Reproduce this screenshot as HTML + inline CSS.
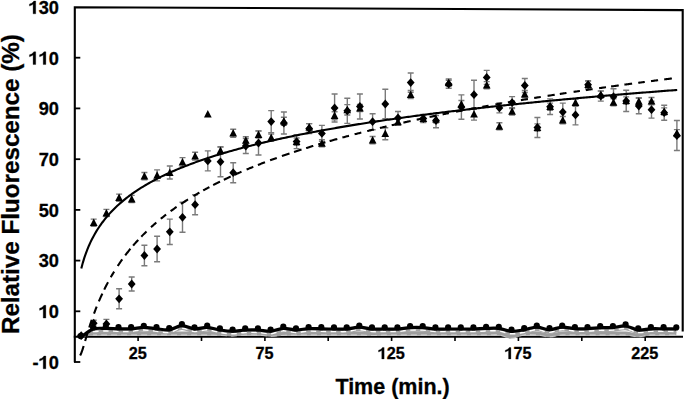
<!DOCTYPE html><html><head><meta charset="utf-8"><style>html,body{margin:0;padding:0;background:#fff;}svg{display:block;}text{font-family:"Liberation Sans",sans-serif;font-weight:bold;fill:#000;stroke:#000;stroke-width:0.3px;}</style></head><body>
<svg width="685" height="399" viewBox="0 0 685 399">
<rect width="685" height="399" fill="#fff"/>
<line x1="73.8" y1="336.7" x2="683" y2="336.7" stroke="#000" stroke-width="1.9"/>
<line x1="138.1" y1="336" x2="138.1" y2="341" stroke="#000" stroke-width="1.6"/>
<line x1="201.5" y1="336" x2="201.5" y2="341" stroke="#000" stroke-width="1.6"/>
<line x1="264.9" y1="336" x2="264.9" y2="341" stroke="#000" stroke-width="1.6"/>
<line x1="328.2" y1="336" x2="328.2" y2="341" stroke="#000" stroke-width="1.6"/>
<line x1="391.6" y1="336" x2="391.6" y2="341" stroke="#000" stroke-width="1.6"/>
<line x1="455.0" y1="336" x2="455.0" y2="341" stroke="#000" stroke-width="1.6"/>
<line x1="518.4" y1="336" x2="518.4" y2="341" stroke="#000" stroke-width="1.6"/>
<line x1="581.8" y1="336" x2="581.8" y2="341" stroke="#000" stroke-width="1.6"/>
<line x1="645.2" y1="336" x2="645.2" y2="341" stroke="#000" stroke-width="1.6"/>
<path d="M80.5,336.0 C82.6,335.6 88.9,333.8 93.1,333.4 C97.3,333.0 101.6,333.4 105.8,333.4 C110.0,333.4 114.2,333.4 118.5,333.4 C122.7,333.4 126.9,333.4 131.1,333.4 C135.4,333.4 139.6,333.4 143.8,333.4 C148.1,333.4 152.3,333.4 156.5,333.4 C160.7,333.4 165.0,333.4 169.2,333.4 C173.4,333.4 177.6,333.4 181.9,333.4 C186.1,333.4 190.3,333.4 194.5,333.4 C198.8,333.4 203.0,333.3 207.2,333.4 C211.4,333.5 215.7,333.7 219.9,333.9 C224.1,334.1 228.3,334.7 232.6,334.6 C236.8,334.5 241.0,333.6 245.2,333.4 C249.5,333.2 253.7,333.2 257.9,333.4 C262.1,333.6 266.4,334.7 270.6,334.8 C274.8,334.9 279.1,334.0 283.3,333.8 C287.5,333.6 291.7,333.5 296.0,333.4 C300.2,333.3 304.4,333.4 308.6,333.4 C312.9,333.4 317.1,333.4 321.3,333.4 C325.5,333.4 329.8,333.4 334.0,333.4 C338.2,333.4 342.4,333.4 346.7,333.4 C350.9,333.4 355.1,333.3 359.3,333.4 C363.6,333.5 367.8,334.0 372.0,334.0 C376.2,334.0 380.5,333.5 384.7,333.4 C388.9,333.3 393.2,333.4 397.4,333.4 C401.6,333.4 405.8,333.4 410.1,333.4 C414.3,333.4 418.5,333.4 422.7,333.4 C427.0,333.4 431.2,333.4 435.4,333.4 C439.6,333.4 443.9,333.4 448.1,333.4 C452.3,333.4 456.5,333.4 460.8,333.4 C465.0,333.4 469.2,333.4 473.4,333.4 C477.7,333.4 481.9,333.4 486.1,333.4 C490.3,333.4 494.6,332.8 498.8,333.4 C503.0,334.0 507.2,336.8 511.5,336.8 C515.7,336.8 519.9,334.0 524.2,333.4 C528.4,332.8 532.6,333.1 536.8,333.4 C541.1,333.7 545.3,335.4 549.5,335.4 C553.7,335.4 558.0,333.7 562.2,333.4 C566.4,333.1 570.6,333.4 574.9,333.4 C579.1,333.4 583.3,333.4 587.5,333.4 C591.8,333.4 596.0,333.4 600.2,333.4 C604.4,333.4 608.7,333.4 612.9,333.4 C617.1,333.4 621.3,333.1 625.6,333.4 C629.8,333.7 634.0,335.4 638.2,335.4 C642.5,335.4 646.7,333.7 650.9,333.4 C655.2,333.1 659.4,333.4 663.6,333.4 C667.8,333.4 674.2,333.4 676.3,333.4" fill="none" stroke="#9e9e9e" stroke-width="3.8" stroke-linejoin="round"/>
<path d="M93.1,334.9 C95.2,334.9 101.6,334.9 105.8,334.9 C110.0,334.9 114.2,334.9 118.5,334.9 C122.7,334.9 126.9,334.9 131.1,334.9 C135.4,334.9 139.6,334.9 143.8,334.9 C148.1,334.9 152.3,334.9 156.5,334.9 C160.7,334.9 165.0,334.9 169.2,334.9 C173.4,334.9 177.6,334.9 181.9,334.9 C186.1,334.9 190.3,334.9 194.5,334.9 C198.8,334.9 203.0,334.8 207.2,334.9 C211.4,335.0 215.7,335.2 219.9,335.4 C224.1,335.6 228.3,336.2 232.6,336.1 C236.8,336.0 241.0,335.1 245.2,334.9 C249.5,334.7 253.7,334.7 257.9,334.9 C262.1,335.1 266.4,336.2 270.6,336.3 C274.8,336.4 279.1,335.5 283.3,335.3 C287.5,335.1 291.7,335.0 296.0,334.9 C300.2,334.8 304.4,334.9 308.6,334.9 C312.9,334.9 317.1,334.9 321.3,334.9 C325.5,334.9 329.8,334.9 334.0,334.9 C338.2,334.9 342.4,334.9 346.7,334.9 C350.9,334.9 355.1,334.8 359.3,334.9 C363.6,335.0 367.8,335.5 372.0,335.5 C376.2,335.5 380.5,335.0 384.7,334.9 C388.9,334.8 393.2,334.9 397.4,334.9 C401.6,334.9 405.8,334.9 410.1,334.9 C414.3,334.9 418.5,334.9 422.7,334.9 C427.0,334.9 431.2,334.9 435.4,334.9 C439.6,334.9 443.9,334.9 448.1,334.9 C452.3,334.9 456.5,334.9 460.8,334.9 C465.0,334.9 469.2,334.9 473.4,334.9 C477.7,334.9 481.9,334.9 486.1,334.9 C490.3,334.9 494.6,334.3 498.8,334.9 C503.0,335.5 507.2,338.3 511.5,338.3 C515.7,338.3 519.9,335.5 524.2,334.9 C528.4,334.3 532.6,334.6 536.8,334.9 C541.1,335.2 545.3,336.9 549.5,336.9 C553.7,336.9 558.0,335.2 562.2,334.9 C566.4,334.6 570.6,334.9 574.9,334.9 C579.1,334.9 583.3,334.9 587.5,334.9 C591.8,334.9 596.0,334.9 600.2,334.9 C604.4,334.9 608.7,334.9 612.9,334.9 C617.1,334.9 621.3,334.6 625.6,334.9 C629.8,335.2 634.0,336.9 638.2,336.9 C642.5,336.9 646.7,335.2 650.9,334.9 C655.2,334.6 659.4,334.9 663.6,334.9 C667.8,334.9 674.2,334.9 676.3,334.9" fill="none" stroke="#fff" stroke-width="1.2" stroke-dasharray="6,4" stroke-dashoffset="2" opacity="0.4"/>
<path d="M80.5,336.0 C82.6,335.3 88.9,332.5 93.1,331.7 C97.3,330.9 101.6,331.1 105.8,331.0 C110.0,330.9 114.2,331.3 118.5,331.4 C122.7,331.5 126.9,331.6 131.1,331.4 C135.4,331.2 139.6,330.0 143.8,330.0 C148.1,330.0 152.3,331.0 156.5,331.4 C160.7,331.8 165.0,332.9 169.2,332.4 C173.4,331.9 177.6,328.4 181.9,328.3 C186.1,328.2 190.3,331.2 194.5,331.5 C198.8,331.8 203.0,329.7 207.2,329.9 C211.4,330.1 215.7,331.9 219.9,332.6 C224.1,333.2 228.3,333.8 232.6,333.8 C236.8,333.8 241.0,332.8 245.2,332.6 C249.5,332.4 253.7,332.4 257.9,332.6 C262.1,332.8 266.4,334.1 270.6,333.8 C274.8,333.5 279.1,331.1 283.3,330.9 C287.5,330.7 291.7,332.5 296.0,332.6 C300.2,332.6 304.4,331.4 308.6,331.2 C312.9,331.0 317.1,331.3 321.3,331.4 C325.5,331.5 329.8,331.6 334.0,331.6 C338.2,331.6 342.4,331.9 346.7,331.6 C350.9,331.3 355.1,329.7 359.3,329.7 C363.6,329.7 367.8,331.3 372.0,331.6 C376.2,331.9 380.5,331.6 384.7,331.6 C388.9,331.6 393.2,331.8 397.4,331.6 C401.6,331.4 405.8,330.4 410.1,330.2 C414.3,330.0 418.5,330.0 422.7,330.2 C427.0,330.4 431.2,331.4 435.4,331.6 C439.6,331.8 443.9,331.6 448.1,331.6 C452.3,331.6 456.5,331.6 460.8,331.6 C465.0,331.6 469.2,331.7 473.4,331.6 C477.7,331.5 481.9,331.1 486.1,331.0 C490.3,330.9 494.6,330.5 498.8,331.0 C503.0,331.5 507.2,333.7 511.5,333.9 C515.7,334.1 519.9,333.1 524.2,332.4 C528.4,331.7 532.6,329.7 536.8,329.7 C541.1,329.7 545.3,332.3 549.5,332.3 C553.7,332.3 558.0,329.9 562.2,329.7 C566.4,329.5 570.6,330.9 574.9,331.2 C579.1,331.4 583.3,331.3 587.5,331.2 C591.8,331.1 596.0,330.5 600.2,330.3 C604.4,330.1 608.7,330.5 612.9,330.2 C617.1,329.9 621.3,328.2 625.6,328.6 C629.8,329.0 634.0,332.1 638.2,332.6 C642.5,333.1 646.7,331.6 650.9,331.4 C655.2,331.2 659.4,331.4 663.6,331.4 C667.8,331.4 674.2,331.6 676.3,331.6" fill="none" stroke="#a2a2a2" stroke-width="3.2" stroke-linejoin="round"/>
<path d="M93.1,331.6 C95.2,331.5 101.6,330.9 105.8,330.9 C110.0,330.8 114.2,331.2 118.5,331.3 C122.7,331.4 126.9,331.5 131.1,331.3 C135.4,331.1 139.6,329.9 143.8,329.9 C148.1,329.9 152.3,330.9 156.5,331.3 C160.7,331.7 165.0,332.8 169.2,332.3 C173.4,331.8 177.6,328.3 181.9,328.2 C186.1,328.1 190.3,331.1 194.5,331.4 C198.8,331.7 203.0,329.6 207.2,329.8 C211.4,330.0 215.7,331.8 219.9,332.5 C224.1,333.1 228.3,333.7 232.6,333.7 C236.8,333.7 241.0,332.7 245.2,332.5 C249.5,332.3 253.7,332.3 257.9,332.5 C262.1,332.7 266.4,334.0 270.6,333.7 C274.8,333.4 279.1,331.0 283.3,330.8 C287.5,330.6 291.7,332.4 296.0,332.5 C300.2,332.5 304.4,331.3 308.6,331.1 C312.9,330.9 317.1,331.2 321.3,331.3 C325.5,331.4 329.8,331.5 334.0,331.5 C338.2,331.5 342.4,331.8 346.7,331.5 C350.9,331.2 355.1,329.6 359.3,329.6 C363.6,329.6 367.8,331.2 372.0,331.5 C376.2,331.8 380.5,331.5 384.7,331.5 C388.9,331.5 393.2,331.7 397.4,331.5 C401.6,331.3 405.8,330.3 410.1,330.1 C414.3,329.9 418.5,329.9 422.7,330.1 C427.0,330.3 431.2,331.3 435.4,331.5 C439.6,331.7 443.9,331.5 448.1,331.5 C452.3,331.5 456.5,331.5 460.8,331.5 C465.0,331.5 469.2,331.6 473.4,331.5 C477.7,331.4 481.9,331.0 486.1,330.9 C490.3,330.8 494.6,330.4 498.8,330.9 C503.0,331.4 507.2,333.6 511.5,333.8 C515.7,334.0 519.9,333.0 524.2,332.3 C528.4,331.6 532.6,329.6 536.8,329.6 C541.1,329.6 545.3,332.2 549.5,332.2 C553.7,332.2 558.0,329.8 562.2,329.6 C566.4,329.4 570.6,330.8 574.9,331.1 C579.1,331.3 583.3,331.2 587.5,331.1 C591.8,330.9 596.0,330.4 600.2,330.2 C604.4,330.0 608.7,330.4 612.9,330.1 C617.1,329.8 621.3,328.1 625.6,328.5 C629.8,328.9 634.0,332.0 638.2,332.5 C642.5,333.0 646.7,331.5 650.9,331.3 C655.2,331.1 659.4,331.3 663.6,331.3 C667.8,331.3 674.2,331.5 676.3,331.5" fill="none" stroke="#fff" stroke-width="1.5" stroke-dasharray="5.5,4.5"/>
<path d="M74.8,362.2 L74.8,7.2 L682.7,10.1 L682.7,331.5" fill="none" stroke="#000" stroke-width="2.1" stroke-linejoin="miter"/>
<line x1="74" y1="362.0" x2="80.3" y2="362.0" stroke="#000" stroke-width="1.8"/>
<line x1="74" y1="311.3" x2="80.3" y2="311.3" stroke="#000" stroke-width="1.8"/>
<line x1="74" y1="260.6" x2="80.3" y2="260.6" stroke="#000" stroke-width="1.8"/>
<line x1="74" y1="209.9" x2="80.3" y2="209.9" stroke="#000" stroke-width="1.8"/>
<line x1="74" y1="159.2" x2="80.3" y2="159.2" stroke="#000" stroke-width="1.8"/>
<line x1="74" y1="108.4" x2="80.3" y2="108.4" stroke="#000" stroke-width="1.8"/>
<line x1="74" y1="57.7" x2="80.3" y2="57.7" stroke="#000" stroke-width="1.8"/>
<path d="M93.7,320.2 V326.2 M90.7,320.2 h6 M90.7,326.2 h6" stroke="#7a7a7a" stroke-width="1.4" fill="none"/>
<path d="M93.7,219.1 V226.3 M90.7,219.1 h6 M90.7,226.3 h6" stroke="#7a7a7a" stroke-width="1.4" fill="none"/>
<path d="M106.4,319.4 V328.4 M103.4,319.4 h6 M103.4,328.4 h6" stroke="#7a7a7a" stroke-width="1.4" fill="none"/>
<path d="M106.4,209.4 V216.6 M103.4,209.4 h6 M103.4,216.6 h6" stroke="#7a7a7a" stroke-width="1.4" fill="none"/>
<path d="M119.1,288.8 V308.8 M116.1,288.8 h6 M116.1,308.8 h6" stroke="#7a7a7a" stroke-width="1.4" fill="none"/>
<path d="M119.1,194.1 V201.3 M116.1,194.1 h6 M116.1,201.3 h6" stroke="#7a7a7a" stroke-width="1.4" fill="none"/>
<path d="M131.7,277.0 V291.0 M128.7,277.0 h6 M128.7,291.0 h6" stroke="#7a7a7a" stroke-width="1.4" fill="none"/>
<path d="M131.7,195.4 V202.6 M128.7,195.4 h6 M128.7,202.6 h6" stroke="#7a7a7a" stroke-width="1.4" fill="none"/>
<path d="M144.4,245.2 V265.8 M141.4,245.2 h6 M141.4,265.8 h6" stroke="#7a7a7a" stroke-width="1.4" fill="none"/>
<path d="M144.4,172.5 V179.7 M141.4,172.5 h6 M141.4,179.7 h6" stroke="#7a7a7a" stroke-width="1.4" fill="none"/>
<path d="M157.1,236.3 V261.7 M154.1,236.3 h6 M154.1,261.7 h6" stroke="#7a7a7a" stroke-width="1.4" fill="none"/>
<path d="M157.1,169.9 V180.9 M154.1,169.9 h6 M154.1,180.9 h6" stroke="#7a7a7a" stroke-width="1.4" fill="none"/>
<path d="M169.8,219.1 V244.5 M166.8,219.1 h6 M166.8,244.5 h6" stroke="#7a7a7a" stroke-width="1.4" fill="none"/>
<path d="M169.8,166.0 V179.0 M166.8,166.0 h6 M166.8,179.0 h6" stroke="#7a7a7a" stroke-width="1.4" fill="none"/>
<path d="M182.5,202.3 V232.3 M179.5,202.3 h6 M179.5,232.3 h6" stroke="#7a7a7a" stroke-width="1.4" fill="none"/>
<path d="M182.5,157.6 V166.4 M179.5,157.6 h6 M179.5,166.4 h6" stroke="#7a7a7a" stroke-width="1.4" fill="none"/>
<path d="M195.1,194.7 V214.7 M192.1,194.7 h6 M192.1,214.7 h6" stroke="#7a7a7a" stroke-width="1.4" fill="none"/>
<path d="M195.1,152.3 V160.1 M192.1,152.3 h6 M192.1,160.1 h6" stroke="#7a7a7a" stroke-width="1.4" fill="none"/>
<path d="M207.8,150.9 V170.9 M204.8,150.9 h6 M204.8,170.9 h6" stroke="#7a7a7a" stroke-width="1.4" fill="none"/>
<path d="M220.5,146.8 V176.8 M217.5,146.8 h6 M217.5,176.8 h6" stroke="#7a7a7a" stroke-width="1.4" fill="none"/>
<path d="M220.5,147.1 V154.3 M217.5,147.1 h6 M217.5,154.3 h6" stroke="#7a7a7a" stroke-width="1.4" fill="none"/>
<path d="M233.2,162.7 V182.7 M230.2,162.7 h6 M230.2,182.7 h6" stroke="#7a7a7a" stroke-width="1.4" fill="none"/>
<path d="M233.2,129.2 V137.2 M230.2,129.2 h6 M230.2,137.2 h6" stroke="#7a7a7a" stroke-width="1.4" fill="none"/>
<path d="M245.8,138.5 V153.5 M242.8,138.5 h6 M242.8,153.5 h6" stroke="#7a7a7a" stroke-width="1.4" fill="none"/>
<path d="M245.8,136.7 V143.9 M242.8,136.7 h6 M242.8,143.9 h6" stroke="#7a7a7a" stroke-width="1.4" fill="none"/>
<path d="M258.5,131.0 V155.0 M255.5,131.0 h6 M255.5,155.0 h6" stroke="#7a7a7a" stroke-width="1.4" fill="none"/>
<path d="M258.5,130.9 V138.1 M255.5,130.9 h6 M255.5,138.1 h6" stroke="#7a7a7a" stroke-width="1.4" fill="none"/>
<path d="M271.2,110.6 V132.6 M268.2,110.6 h6 M268.2,132.6 h6" stroke="#7a7a7a" stroke-width="1.4" fill="none"/>
<path d="M271.2,134.0 V141.2 M268.2,134.0 h6 M268.2,141.2 h6" stroke="#7a7a7a" stroke-width="1.4" fill="none"/>
<path d="M283.9,112.0 V134.0 M280.9,112.0 h6 M280.9,134.0 h6" stroke="#7a7a7a" stroke-width="1.4" fill="none"/>
<path d="M283.9,117.2 V125.2 M280.9,117.2 h6 M280.9,125.2 h6" stroke="#7a7a7a" stroke-width="1.4" fill="none"/>
<path d="M296.6,134.6 V148.6 M293.6,134.6 h6 M293.6,148.6 h6" stroke="#7a7a7a" stroke-width="1.4" fill="none"/>
<path d="M296.6,138.0 V145.2 M293.6,138.0 h6 M293.6,145.2 h6" stroke="#7a7a7a" stroke-width="1.4" fill="none"/>
<path d="M309.2,123.6 V133.6 M306.2,123.6 h6 M306.2,133.6 h6" stroke="#7a7a7a" stroke-width="1.4" fill="none"/>
<path d="M309.2,123.6 V130.8 M306.2,123.6 h6 M306.2,130.8 h6" stroke="#7a7a7a" stroke-width="1.4" fill="none"/>
<path d="M321.9,125.4 V141.4 M318.9,125.4 h6 M318.9,141.4 h6" stroke="#7a7a7a" stroke-width="1.4" fill="none"/>
<path d="M321.9,139.7 V146.9 M318.9,139.7 h6 M318.9,146.9 h6" stroke="#7a7a7a" stroke-width="1.4" fill="none"/>
<path d="M334.6,94.0 V122.0 M331.6,94.0 h6 M331.6,122.0 h6" stroke="#7a7a7a" stroke-width="1.4" fill="none"/>
<path d="M334.6,111.7 V119.7 M331.6,111.7 h6 M331.6,119.7 h6" stroke="#7a7a7a" stroke-width="1.4" fill="none"/>
<path d="M347.3,98.2 V123.4 M344.3,98.2 h6 M344.3,123.4 h6" stroke="#7a7a7a" stroke-width="1.4" fill="none"/>
<path d="M347.3,104.6 V115.0 M344.3,104.6 h6 M344.3,115.0 h6" stroke="#7a7a7a" stroke-width="1.4" fill="none"/>
<path d="M359.9,94.0 V119.0 M356.9,94.0 h6 M356.9,119.0 h6" stroke="#7a7a7a" stroke-width="1.4" fill="none"/>
<path d="M359.9,104.4 V111.6 M356.9,104.4 h6 M356.9,111.6 h6" stroke="#7a7a7a" stroke-width="1.4" fill="none"/>
<path d="M372.6,113.7 V129.7 M369.6,113.7 h6 M369.6,129.7 h6" stroke="#7a7a7a" stroke-width="1.4" fill="none"/>
<path d="M372.6,136.5 V143.7 M369.6,136.5 h6 M369.6,143.7 h6" stroke="#7a7a7a" stroke-width="1.4" fill="none"/>
<path d="M385.3,89.3 V118.7 M382.3,89.3 h6 M382.3,118.7 h6" stroke="#7a7a7a" stroke-width="1.4" fill="none"/>
<path d="M385.3,127.7 V139.7 M382.3,127.7 h6 M382.3,139.7 h6" stroke="#7a7a7a" stroke-width="1.4" fill="none"/>
<path d="M398.0,111.5 V124.5 M395.0,111.5 h6 M395.0,124.5 h6" stroke="#7a7a7a" stroke-width="1.4" fill="none"/>
<path d="M398.0,118.2 V125.4 M395.0,118.2 h6 M395.0,125.4 h6" stroke="#7a7a7a" stroke-width="1.4" fill="none"/>
<path d="M410.7,73.0 V92.2 M407.7,73.0 h6 M407.7,92.2 h6" stroke="#7a7a7a" stroke-width="1.4" fill="none"/>
<path d="M410.7,90.5 V98.5 M407.7,90.5 h6 M407.7,98.5 h6" stroke="#7a7a7a" stroke-width="1.4" fill="none"/>
<path d="M423.3,114.5 V122.5 M420.3,114.5 h6 M420.3,122.5 h6" stroke="#7a7a7a" stroke-width="1.4" fill="none"/>
<path d="M423.3,114.9 V122.1 M420.3,114.9 h6 M420.3,122.1 h6" stroke="#7a7a7a" stroke-width="1.4" fill="none"/>
<path d="M436.0,113.3 V127.7 M433.0,113.3 h6 M433.0,127.7 h6" stroke="#7a7a7a" stroke-width="1.4" fill="none"/>
<path d="M436.0,115.5 V122.7 M433.0,115.5 h6 M433.0,122.7 h6" stroke="#7a7a7a" stroke-width="1.4" fill="none"/>
<path d="M448.7,80.2 V88.2 M445.7,80.2 h6 M445.7,88.2 h6" stroke="#7a7a7a" stroke-width="1.4" fill="none"/>
<path d="M448.7,79.0 V86.2 M445.7,79.0 h6 M445.7,86.2 h6" stroke="#7a7a7a" stroke-width="1.4" fill="none"/>
<path d="M461.4,94.9 V119.3 M458.4,94.9 h6 M458.4,119.3 h6" stroke="#7a7a7a" stroke-width="1.4" fill="none"/>
<path d="M461.4,100.5 V107.7 M458.4,100.5 h6 M458.4,107.7 h6" stroke="#7a7a7a" stroke-width="1.4" fill="none"/>
<path d="M474.0,80.2 V109.2 M471.0,80.2 h6 M471.0,109.2 h6" stroke="#7a7a7a" stroke-width="1.4" fill="none"/>
<path d="M474.0,108.1 V120.1 M471.0,108.1 h6 M471.0,120.1 h6" stroke="#7a7a7a" stroke-width="1.4" fill="none"/>
<path d="M486.7,70.4 V84.4 M483.7,70.4 h6 M483.7,84.4 h6" stroke="#7a7a7a" stroke-width="1.4" fill="none"/>
<path d="M486.7,81.6 V88.8 M483.7,81.6 h6 M483.7,88.8 h6" stroke="#7a7a7a" stroke-width="1.4" fill="none"/>
<path d="M499.4,102.9 V112.9 M496.4,102.9 h6 M496.4,112.9 h6" stroke="#7a7a7a" stroke-width="1.4" fill="none"/>
<path d="M499.4,122.7 V129.9 M496.4,122.7 h6 M496.4,129.9 h6" stroke="#7a7a7a" stroke-width="1.4" fill="none"/>
<path d="M512.1,96.6 V108.6 M509.1,96.6 h6 M509.1,108.6 h6" stroke="#7a7a7a" stroke-width="1.4" fill="none"/>
<path d="M512.1,107.8 V115.0 M509.1,107.8 h6 M509.1,115.0 h6" stroke="#7a7a7a" stroke-width="1.4" fill="none"/>
<path d="M524.8,78.5 V92.5 M521.8,78.5 h6 M521.8,92.5 h6" stroke="#7a7a7a" stroke-width="1.4" fill="none"/>
<path d="M524.8,90.5 V97.7 M521.8,90.5 h6 M521.8,97.7 h6" stroke="#7a7a7a" stroke-width="1.4" fill="none"/>
<path d="M537.4,117.5 V137.5 M534.4,117.5 h6 M534.4,137.5 h6" stroke="#7a7a7a" stroke-width="1.4" fill="none"/>
<path d="M537.4,123.9 V131.1 M534.4,123.9 h6 M534.4,131.1 h6" stroke="#7a7a7a" stroke-width="1.4" fill="none"/>
<path d="M550.1,98.9 V114.5 M547.1,98.9 h6 M547.1,114.5 h6" stroke="#7a7a7a" stroke-width="1.4" fill="none"/>
<path d="M550.1,103.1 V110.3 M547.1,103.1 h6 M547.1,110.3 h6" stroke="#7a7a7a" stroke-width="1.4" fill="none"/>
<path d="M562.8,103.1 V121.1 M559.8,103.1 h6 M559.8,121.1 h6" stroke="#7a7a7a" stroke-width="1.4" fill="none"/>
<path d="M562.8,116.5 V123.7 M559.8,116.5 h6 M559.8,123.7 h6" stroke="#7a7a7a" stroke-width="1.4" fill="none"/>
<path d="M575.5,104.9 V124.9 M572.5,104.9 h6 M572.5,124.9 h6" stroke="#7a7a7a" stroke-width="1.4" fill="none"/>
<path d="M575.5,99.1 V106.3 M572.5,99.1 h6 M572.5,106.3 h6" stroke="#7a7a7a" stroke-width="1.4" fill="none"/>
<path d="M588.1,80.7 V88.7 M585.1,80.7 h6 M585.1,88.7 h6" stroke="#7a7a7a" stroke-width="1.4" fill="none"/>
<path d="M588.1,81.1 V88.3 M585.1,81.1 h6 M585.1,88.3 h6" stroke="#7a7a7a" stroke-width="1.4" fill="none"/>
<path d="M600.8,91.1 V101.1 M597.8,91.1 h6 M597.8,101.1 h6" stroke="#7a7a7a" stroke-width="1.4" fill="none"/>
<path d="M600.8,90.9 V98.1 M597.8,90.9 h6 M597.8,98.1 h6" stroke="#7a7a7a" stroke-width="1.4" fill="none"/>
<path d="M613.5,88.7 V104.7 M610.5,88.7 h6 M610.5,104.7 h6" stroke="#7a7a7a" stroke-width="1.4" fill="none"/>
<path d="M613.5,98.7 V105.9 M610.5,98.7 h6 M610.5,105.9 h6" stroke="#7a7a7a" stroke-width="1.4" fill="none"/>
<path d="M626.2,90.3 V111.5 M623.2,90.3 h6 M623.2,111.5 h6" stroke="#7a7a7a" stroke-width="1.4" fill="none"/>
<path d="M626.2,96.9 V104.1 M623.2,96.9 h6 M623.2,104.1 h6" stroke="#7a7a7a" stroke-width="1.4" fill="none"/>
<path d="M638.8,98.3 V113.7 M635.8,98.3 h6 M635.8,113.7 h6" stroke="#7a7a7a" stroke-width="1.4" fill="none"/>
<path d="M638.8,97.7 V104.9 M635.8,97.7 h6 M635.8,104.9 h6" stroke="#7a7a7a" stroke-width="1.4" fill="none"/>
<path d="M651.5,101.3 V118.1 M648.5,101.3 h6 M648.5,118.1 h6" stroke="#7a7a7a" stroke-width="1.4" fill="none"/>
<path d="M651.5,97.5 V104.7 M648.5,97.5 h6 M648.5,104.7 h6" stroke="#7a7a7a" stroke-width="1.4" fill="none"/>
<path d="M664.2,105.2 V120.2 M661.2,105.2 h6 M661.2,120.2 h6" stroke="#7a7a7a" stroke-width="1.4" fill="none"/>
<path d="M664.2,107.9 V115.1 M661.2,107.9 h6 M661.2,115.1 h6" stroke="#7a7a7a" stroke-width="1.4" fill="none"/>
<path d="M676.9,120.5 V150.5 M673.9,120.5 h6 M673.9,150.5 h6" stroke="#7a7a7a" stroke-width="1.4" fill="none"/>
<path d="M676.9,129.6 V136.8 M673.9,129.6 h6 M673.9,136.8 h6" stroke="#7a7a7a" stroke-width="1.4" fill="none"/>
<path d="M80.5,337.7 C82.6,336.3 88.9,330.7 93.1,329.1 C97.3,327.6 101.6,328.5 105.8,328.4 C110.0,328.4 114.2,328.7 118.5,328.8 C122.7,328.9 126.9,329.0 131.1,328.8 C135.4,328.6 139.6,327.4 143.8,327.4 C148.1,327.4 152.3,328.4 156.5,328.8 C160.7,329.2 165.0,330.3 169.2,329.8 C173.4,329.3 177.6,325.9 181.9,325.7 C186.1,325.6 190.3,328.6 194.5,328.9 C198.8,329.2 203.0,327.1 207.2,327.3 C211.4,327.5 215.7,329.4 219.9,330.0 C224.1,330.6 228.3,331.2 232.6,331.2 C236.8,331.2 241.0,330.2 245.2,330.0 C249.5,329.8 253.7,329.8 257.9,330.0 C262.1,330.2 266.4,331.5 270.6,331.2 C274.8,330.9 279.1,328.5 283.3,328.3 C287.5,328.1 291.7,329.9 296.0,330.0 C300.2,330.1 304.4,328.8 308.6,328.6 C312.9,328.4 317.1,328.7 321.3,328.8 C325.5,328.9 329.8,329.0 334.0,329.0 C338.2,329.0 342.4,329.3 346.7,329.0 C350.9,328.7 355.1,327.1 359.3,327.1 C363.6,327.1 367.8,328.7 372.0,329.0 C376.2,329.3 380.5,329.0 384.7,329.0 C388.9,329.0 393.2,329.2 397.4,329.0 C401.6,328.8 405.8,327.8 410.1,327.6 C414.3,327.4 418.5,327.4 422.7,327.6 C427.0,327.8 431.2,328.8 435.4,329.0 C439.6,329.2 443.9,329.0 448.1,329.0 C452.3,329.0 456.5,329.0 460.8,329.0 C465.0,329.0 469.2,329.1 473.4,329.0 C477.7,328.9 481.9,328.5 486.1,328.4 C490.3,328.3 494.6,327.9 498.8,328.4 C503.0,328.9 507.2,331.1 511.5,331.3 C515.7,331.5 519.9,330.5 524.2,329.8 C528.4,329.1 532.6,327.1 536.8,327.1 C541.1,327.1 545.3,329.7 549.5,329.7 C553.7,329.7 558.0,327.3 562.2,327.1 C566.4,326.9 570.6,328.4 574.9,328.6 C579.1,328.9 583.3,328.8 587.5,328.6 C591.8,328.5 596.0,327.9 600.2,327.7 C604.4,327.5 608.7,327.9 612.9,327.6 C617.1,327.3 621.3,325.6 625.6,326.0 C629.8,326.4 634.0,329.5 638.2,330.0 C642.5,330.5 646.7,329.0 650.9,328.8 C655.2,328.6 659.4,328.8 663.6,328.8 C667.8,328.8 674.2,329.0 676.3,329.0" fill="none" stroke="#000" stroke-width="3.2"/>
<circle cx="80.5" cy="336.1" r="3.1" fill="#000"/>
<circle cx="93.1" cy="327.5" r="3.1" fill="#000"/>
<circle cx="105.8" cy="326.8" r="3.1" fill="#000"/>
<circle cx="118.5" cy="327.2" r="3.1" fill="#000"/>
<circle cx="131.1" cy="327.2" r="3.1" fill="#000"/>
<circle cx="143.8" cy="325.8" r="3.1" fill="#000"/>
<circle cx="156.5" cy="327.2" r="3.1" fill="#000"/>
<circle cx="169.2" cy="328.2" r="3.1" fill="#000"/>
<circle cx="181.9" cy="324.1" r="3.1" fill="#000"/>
<circle cx="194.5" cy="327.3" r="3.1" fill="#000"/>
<circle cx="207.2" cy="325.7" r="3.1" fill="#000"/>
<circle cx="219.9" cy="328.4" r="3.1" fill="#000"/>
<circle cx="232.6" cy="329.6" r="3.1" fill="#000"/>
<circle cx="245.2" cy="328.4" r="3.1" fill="#000"/>
<circle cx="257.9" cy="328.4" r="3.1" fill="#000"/>
<circle cx="270.6" cy="329.6" r="3.1" fill="#000"/>
<circle cx="283.3" cy="326.7" r="3.1" fill="#000"/>
<circle cx="296.0" cy="328.4" r="3.1" fill="#000"/>
<circle cx="308.6" cy="327.0" r="3.1" fill="#000"/>
<circle cx="321.3" cy="327.2" r="3.1" fill="#000"/>
<circle cx="334.0" cy="327.4" r="3.1" fill="#000"/>
<circle cx="346.7" cy="327.4" r="3.1" fill="#000"/>
<circle cx="359.3" cy="325.5" r="3.1" fill="#000"/>
<circle cx="372.0" cy="327.4" r="3.1" fill="#000"/>
<circle cx="384.7" cy="327.4" r="3.1" fill="#000"/>
<circle cx="397.4" cy="327.4" r="3.1" fill="#000"/>
<circle cx="410.1" cy="326.0" r="3.1" fill="#000"/>
<circle cx="422.7" cy="326.0" r="3.1" fill="#000"/>
<circle cx="435.4" cy="327.4" r="3.1" fill="#000"/>
<circle cx="448.1" cy="327.4" r="3.1" fill="#000"/>
<circle cx="460.8" cy="327.4" r="3.1" fill="#000"/>
<circle cx="473.4" cy="327.4" r="3.1" fill="#000"/>
<circle cx="486.1" cy="326.8" r="3.1" fill="#000"/>
<circle cx="498.8" cy="326.8" r="3.1" fill="#000"/>
<circle cx="511.5" cy="329.7" r="3.1" fill="#000"/>
<circle cx="524.2" cy="328.2" r="3.1" fill="#000"/>
<circle cx="536.8" cy="325.5" r="3.1" fill="#000"/>
<circle cx="549.5" cy="328.1" r="3.1" fill="#000"/>
<circle cx="562.2" cy="325.5" r="3.1" fill="#000"/>
<circle cx="574.9" cy="327.0" r="3.1" fill="#000"/>
<circle cx="587.5" cy="327.0" r="3.1" fill="#000"/>
<circle cx="600.2" cy="326.1" r="3.1" fill="#000"/>
<circle cx="612.9" cy="326.0" r="3.1" fill="#000"/>
<circle cx="625.6" cy="324.4" r="3.1" fill="#000"/>
<circle cx="638.2" cy="328.4" r="3.1" fill="#000"/>
<circle cx="650.9" cy="327.2" r="3.1" fill="#000"/>
<circle cx="663.6" cy="327.2" r="3.1" fill="#000"/>
<circle cx="676.3" cy="327.4" r="3.1" fill="#000"/>
<path d="M81.3,268.41 L82.8,262.83 L84.3,257.92 L85.8,253.54 L87.3,249.58 L88.8,245.96 L90.3,242.62 L91.8,239.53 L93.3,236.65 L94.8,233.95 L96.3,231.40 L97.8,229.00 L99.3,226.72 L100.8,224.56 L102.3,222.49 L103.8,220.52 L105.3,218.63 L106.8,216.82 L108.3,215.08 L109.8,213.40 L111.3,211.79 L112.8,210.23 L114.3,208.72 L115.8,207.26 L117.3,205.85 L118.8,204.48 L120.3,203.15 L121.8,201.86 L123.3,200.60 L124.8,199.38 L126.3,198.19 L127.8,197.03 L129.3,195.89 L130.8,194.79 L132.3,193.71 L133.8,192.66 L135.3,191.62 L136.8,190.62 L138.3,189.63 L139.8,188.66 L141.3,187.72 L142.8,186.79 L144.3,185.88 L145.8,184.99 L147.3,184.12 L148.8,183.26 L150.3,182.42 L151.8,181.59 L153.3,180.78 L154.8,179.98 L156.3,179.19 L157.8,178.42 L159.3,177.66 L160.8,176.91 L162.3,176.18 L163.8,175.45 L165.3,174.74 L166.8,174.04 L168.3,173.35 L169.8,172.67 L171.3,171.99 L172.8,171.33 L174.3,170.68 L175.8,170.03 L177.3,169.40 L178.8,168.77 L180.3,168.15 L181.8,167.54 L183.3,166.94 L184.8,166.35 L186.3,165.76 L187.8,165.18 L189.3,164.61 L190.8,164.04 L192.3,163.48 L193.8,162.93 L195.3,162.38 L196.8,161.84 L198.3,161.31 L199.8,160.78 L201.3,160.26 L202.8,159.75 L204.3,159.24 L205.8,158.73 L207.3,158.23 L208.8,157.74 L210.3,157.25 L211.8,156.77 L213.3,156.29 L214.8,155.81 L216.3,155.34 L217.8,154.88 L219.3,154.42 L220.8,153.96 L222.3,153.51 L223.8,153.07 L225.3,152.62 L226.8,152.18 L228.3,151.75 L229.8,151.32 L231.3,150.89 L232.8,150.47 L234.3,150.05 L235.8,149.64 L237.3,149.23 L238.8,148.82 L240.3,148.41 L241.8,148.01 L243.3,147.61 L244.8,147.22 L246.3,146.83 L247.8,146.44 L249.3,146.06 L250.8,145.68 L252.3,145.30 L253.8,144.92 L255.3,144.55 L256.8,144.18 L258.3,143.82 L259.8,143.45 L261.3,143.09 L262.8,142.73 L264.3,142.38 L265.8,142.03 L267.3,141.68 L268.8,141.33 L270.3,140.99 L271.8,140.64 L273.3,140.30 L274.8,139.97 L276.3,139.63 L277.8,139.30 L279.3,138.97 L280.8,138.64 L282.3,138.32 L283.8,137.99 L285.3,137.67 L286.8,137.35 L288.3,137.04 L289.8,136.72 L291.3,136.41 L292.8,136.10 L294.3,135.79 L295.8,135.49 L297.3,135.18 L298.8,134.88 L300.3,134.58 L301.8,134.28 L303.3,133.98 L304.8,133.69 L306.3,133.40 L307.8,133.11 L309.3,132.82 L310.8,132.53 L312.3,132.24 L313.8,131.96 L315.3,131.68 L316.8,131.40 L318.3,131.12 L319.8,130.84 L321.3,130.57 L322.8,130.29 L324.3,130.02 L325.8,129.75 L327.3,129.48 L328.8,129.21 L330.3,128.95 L331.8,128.68 L333.3,128.42 L334.8,128.16 L336.3,127.90 L337.8,127.64 L339.3,127.38 L340.8,127.13 L342.3,126.87 L343.8,126.62 L345.3,126.37 L346.8,126.12 L348.3,125.87 L349.8,125.62 L351.3,125.38 L352.8,125.13 L354.3,124.89 L355.8,124.64 L357.3,124.40 L358.8,124.16 L360.3,123.92 L361.8,123.69 L363.3,123.45 L364.8,123.22 L366.3,122.98 L367.8,122.75 L369.3,122.52 L370.8,122.29 L372.3,122.06 L373.8,121.83 L375.3,121.60 L376.8,121.38 L378.3,121.15 L379.8,120.93 L381.3,120.71 L382.8,120.49 L384.3,120.27 L385.8,120.05 L387.3,119.83 L388.8,119.61 L390.3,119.39 L391.8,119.18 L393.3,118.96 L394.8,118.75 L396.3,118.54 L397.8,118.33 L399.3,118.12 L400.8,117.91 L402.3,117.70 L403.8,117.49 L405.3,117.28 L406.8,117.08 L408.3,116.87 L409.8,116.67 L411.3,116.47 L412.8,116.27 L414.3,116.06 L415.8,115.86 L417.3,115.66 L418.8,115.47 L420.3,115.27 L421.8,115.07 L423.3,114.87 L424.8,114.68 L426.3,114.48 L427.8,114.29 L429.3,114.10 L430.8,113.91 L432.3,113.72 L433.8,113.52 L435.3,113.33 L436.8,113.15 L438.3,112.96 L439.8,112.77 L441.3,112.58 L442.8,112.40 L444.3,112.21 L445.8,112.03 L447.3,111.85 L448.8,111.66 L450.3,111.48 L451.8,111.30 L453.3,111.12 L454.8,110.94 L456.3,110.76 L457.8,110.58 L459.3,110.40 L460.8,110.23 L462.3,110.05 L463.8,109.87 L465.3,109.70 L466.8,109.52 L468.3,109.35 L469.8,109.18 L471.3,109.00 L472.8,108.83 L474.3,108.66 L475.8,108.49 L477.3,108.32 L478.8,108.15 L480.3,107.98 L481.8,107.81 L483.3,107.65 L484.8,107.48 L486.3,107.31 L487.8,107.15 L489.3,106.98 L490.8,106.82 L492.3,106.65 L493.8,106.49 L495.3,106.33 L496.8,106.17 L498.3,106.00 L499.8,105.84 L501.3,105.68 L502.8,105.52 L504.3,105.36 L505.8,105.20 L507.3,105.05 L508.8,104.89 L510.3,104.73 L511.8,104.57 L513.3,104.42 L514.8,104.26 L516.3,104.11 L517.8,103.95 L519.3,103.80 L520.8,103.65 L522.3,103.49 L523.8,103.34 L525.3,103.19 L526.8,103.04 L528.3,102.89 L529.8,102.74 L531.3,102.59 L532.8,102.44 L534.3,102.29 L535.8,102.14 L537.3,101.99 L538.8,101.84 L540.3,101.70 L541.8,101.55 L543.3,101.40 L544.8,101.26 L546.3,101.11 L547.8,100.97 L549.3,100.82 L550.8,100.68 L552.3,100.54 L553.8,100.39 L555.3,100.25 L556.8,100.11 L558.3,99.97 L559.8,99.83 L561.3,99.69 L562.8,99.55 L564.3,99.41 L565.8,99.27 L567.3,99.13 L568.8,98.99 L570.3,98.85 L571.8,98.71 L573.3,98.58 L574.8,98.44 L576.3,98.30 L577.8,98.17 L579.3,98.03 L580.8,97.90 L582.3,97.76 L583.8,97.63 L585.3,97.49 L586.8,97.36 L588.3,97.23 L589.8,97.09 L591.3,96.96 L592.8,96.83 L594.3,96.70 L595.8,96.57 L597.3,96.44 L598.8,96.30 L600.3,96.17 L601.8,96.04 L603.3,95.92 L604.8,95.79 L606.3,95.66 L607.8,95.53 L609.3,95.40 L610.8,95.27 L612.3,95.15 L613.8,95.02 L615.3,94.89 L616.8,94.77 L618.3,94.64 L619.8,94.52 L621.3,94.39 L622.8,94.27 L624.3,94.14 L625.8,94.02 L627.3,93.89 L628.8,93.77 L630.3,93.65 L631.8,93.52 L633.3,93.40 L634.8,93.28 L636.3,93.16 L637.8,93.04 L639.3,92.92 L640.8,92.79 L642.3,92.67 L643.8,92.55 L645.3,92.43 L646.8,92.31 L648.3,92.20 L649.8,92.08 L651.3,91.96 L652.8,91.84 L654.3,91.72 L655.8,91.60 L657.3,91.49 L658.8,91.37 L660.3,91.25 L661.8,91.14 L663.3,91.02 L664.8,90.91 L666.3,90.79 L667.8,90.67 L669.3,90.56 L670.8,90.44 L672.3,90.33 L673.8,90.22 L675.3,90.10 L676.8,89.99 L677.2,89.96" fill="none" stroke="#000" stroke-width="2.1"/>
<path d="M80.14,355.50 L81.01,353.80 L81.89,351.49 L82.76,348.83 L83.63,346.00M85.12,341.01 L85.87,338.48 L86.63,335.97 L87.38,333.49M89.26,327.49 L90.09,324.94 L90.92,322.44 L91.75,320.00M94.00,313.69 L94.89,311.30 L95.79,308.97 L96.68,306.70M98.86,301.41 L99.73,299.39 L100.60,297.41 L101.47,295.48 L102.34,293.59M104.25,289.60 L105.01,288.06 L105.77,286.56 L106.53,285.08 L107.29,283.62 L108.05,282.20M110.76,277.31 L111.61,275.84 L112.45,274.40 L113.30,272.99 L114.14,271.60M117.71,266.00 L118.47,264.86 L119.23,263.73 L119.99,262.63 L120.74,261.53 L121.50,260.46 L122.26,259.39M125.21,255.40 L125.96,254.42 L126.70,253.45 L127.45,252.50 L128.19,251.55 L128.94,250.62 L129.68,249.70 L130.43,248.79M133.12,245.60 L133.85,244.76 L134.58,243.93 L135.31,243.10 L136.03,242.29 L136.76,241.48 L137.49,240.68 L138.22,239.90M141.30,236.65 L142.04,235.88 L142.79,235.13 L143.53,234.38 L144.27,233.64 L145.01,232.90 L145.76,232.18 L146.50,231.46M151.00,227.24 L151.76,226.55 L152.51,225.87 L153.27,225.20 L154.03,224.53 L154.79,223.87 L155.54,223.21 L156.30,222.56M160.80,218.80 L161.56,218.19 L162.31,217.58 L163.07,216.97 L163.83,216.37 L164.59,215.78 L165.34,215.19 L166.10,214.60M170.60,211.22 L171.35,210.67 L172.10,210.12 L172.85,209.58 L173.60,209.04 L174.35,208.51 L175.10,207.98 L175.85,207.45 L176.60,206.93M181.00,203.93 L181.70,203.47 L182.40,203.01 L183.10,202.55 L183.80,202.09 L184.50,201.64 L185.20,201.18 L185.90,200.74 L186.60,200.29 L187.30,199.85 L188.00,199.41M193.50,196.03 L194.24,195.59 L194.97,195.15 L195.71,194.72 L196.45,194.29 L197.19,193.85 L197.93,193.43 L198.66,193.00 L199.40,192.58M203.20,190.44 L203.97,190.01 L204.75,189.58 L205.53,189.15 L206.30,188.73 L207.07,188.31 L207.85,187.90 L208.62,187.48 L209.40,187.07M213.20,185.08 L213.96,184.69 L214.71,184.30 L215.47,183.91 L216.22,183.53 L216.98,183.15 L217.73,182.77 L218.49,182.39 L219.24,182.02 L220.00,181.64M223.80,179.79 L224.57,179.43 L225.33,179.06 L226.10,178.69 L226.87,178.33 L227.63,177.97 L228.40,177.61 L229.17,177.26 L229.93,176.90 L230.70,176.55M234.50,174.82 L235.20,174.50 L235.90,174.19 L236.60,173.88 L237.30,173.57 L238.00,173.26 L238.70,172.95 L239.40,172.65 L240.10,172.34 L240.80,172.04 L241.50,171.74M246.60,169.57 L247.34,169.26 L248.09,168.95 L248.83,168.64 L249.58,168.33 L250.32,168.03 L251.07,167.72 L251.81,167.42 L252.56,167.12 L253.30,166.82M257.90,164.98 L258.61,164.71 L259.32,164.43 L260.03,164.15 L260.74,163.88 L261.45,163.60 L262.16,163.33 L262.87,163.05 L263.58,162.78 L264.29,162.51 L265.00,162.24M270.10,160.34 L270.84,160.06 L271.59,159.79 L272.33,159.52 L273.08,159.24 L273.82,158.97 L274.57,158.70 L275.31,158.44 L276.06,158.17 L276.80,157.90M281.90,156.10 L282.66,155.84 L283.42,155.57 L284.18,155.31 L284.94,155.05 L285.70,154.79 L286.46,154.53 L287.22,154.27 L287.98,154.01 L288.74,153.75 L289.50,153.50M294.00,152.00 L294.75,151.75 L295.50,151.51 L296.25,151.26 L297.00,151.02 L297.75,150.77 L298.50,150.53 L299.25,150.29 L300.00,150.05 L300.75,149.81 L301.50,149.57M306.10,148.11 L306.82,147.89 L307.54,147.66 L308.26,147.44 L308.98,147.22 L309.70,146.99 L310.42,146.77 L311.14,146.55 L311.86,146.33 L312.58,146.11 L313.30,145.89M318.20,144.42 L318.92,144.21 L319.64,143.99 L320.36,143.78 L321.08,143.57 L321.80,143.36 L322.52,143.14 L323.24,142.93 L323.96,142.72 L324.68,142.52 L325.40,142.31M329.60,141.10 L330.37,140.88 L331.14,140.66 L331.91,140.45 L332.68,140.23 L333.45,140.01 L334.22,139.80 L334.99,139.58 L335.76,139.37 L336.53,139.15 L337.30,138.94M342.40,137.54 L343.13,137.35 L343.87,137.15 L344.60,136.95 L345.33,136.75 L346.07,136.56 L346.80,136.36 L347.53,136.17 L348.27,135.97 L349.00,135.78M354.60,134.31 L355.34,134.11 L356.09,133.92 L356.83,133.73 L357.58,133.54 L358.32,133.35 L359.07,133.16 L359.81,132.96 L360.56,132.78 L361.30,132.59M367.20,131.10 L367.93,130.92 L368.67,130.74 L369.40,130.56 L370.13,130.38 L370.87,130.20 L371.60,130.02 L372.33,129.84 L373.07,129.66 L373.80,129.48M379.90,128.01 L380.64,127.83 L381.39,127.65 L382.13,127.48 L382.88,127.30 L383.62,127.12 L384.37,126.95 L385.11,126.77 L385.86,126.60 L386.60,126.42M391.70,125.24 L392.46,125.07 L393.21,124.90 L393.97,124.72 L394.72,124.55 L395.48,124.38 L396.23,124.21 L396.99,124.03 L397.74,123.86 L398.50,123.69M403.40,122.60 L404.12,122.44 L404.84,122.28 L405.56,122.12 L406.28,121.96 L407.00,121.80 L407.72,121.64 L408.44,121.49 L409.16,121.33 L409.88,121.17 L410.60,121.01M416.70,119.70 L417.46,119.54 L418.21,119.38 L418.97,119.22 L419.72,119.06 L420.48,118.90 L421.23,118.74 L421.99,118.58 L422.74,118.42 L423.50,118.26M429.60,116.99 L430.36,116.83 L431.11,116.68 L431.87,116.52 L432.62,116.37 L433.38,116.21 L434.13,116.06 L434.89,115.91 L435.64,115.75 L436.40,115.60M442.60,114.35 L443.39,114.20 L444.18,114.04 L444.96,113.89 L445.75,113.73 L446.54,113.57 L447.32,113.42 L448.11,113.26 L448.90,113.11M456.00,111.73 L456.73,111.59 L457.47,111.45 L458.20,111.31 L458.93,111.17 L459.67,111.03 L460.40,110.89 L461.13,110.75 L461.87,110.61 L462.60,110.47M469.00,109.27 L469.70,109.14 L470.40,109.01 L471.10,108.88 L471.80,108.75 L472.50,108.62 L473.20,108.49 L473.90,108.36 L474.60,108.23 L475.30,108.10 L476.00,107.98M482.30,106.83 L483.00,106.70 L483.70,106.58 L484.40,106.45 L485.10,106.33 L485.80,106.20 L486.50,106.08 L487.20,105.95 L487.90,105.83 L488.60,105.70M495.40,104.50 L496.11,104.38 L496.82,104.25 L497.53,104.13 L498.24,104.00 L498.96,103.88 L499.67,103.76 L500.38,103.63 L501.09,103.51 L501.80,103.39M507.90,102.34 L508.64,102.22 L509.39,102.09 L510.13,101.96 L510.88,101.84 L511.62,101.71 L512.37,101.59 L513.11,101.46 L513.86,101.33 L514.60,101.21M520.90,100.16 L521.60,100.04 L522.30,99.93 L523.00,99.81 L523.70,99.70 L524.40,99.58 L525.10,99.47 L525.80,99.35 L526.50,99.24 L527.20,99.12 L527.90,99.01M534.20,97.99 L534.93,97.87 L535.67,97.75 L536.40,97.63 L537.13,97.52 L537.87,97.40 L538.60,97.28 L539.33,97.17 L540.07,97.05 L540.80,96.93M547.60,95.86 L548.31,95.75 L549.02,95.64 L549.73,95.53 L550.44,95.42 L551.15,95.31 L551.86,95.19 L552.57,95.08 L553.28,94.97 L553.99,94.86 L554.70,94.75M559.80,93.97 L560.54,93.86 L561.29,93.74 L562.03,93.63 L562.78,93.52 L563.52,93.40 L564.27,93.29 L565.01,93.18 L565.76,93.07 L566.50,92.95M573.60,91.89 L574.39,91.77 L575.17,91.65 L575.96,91.54 L576.75,91.42 L577.54,91.30 L578.33,91.19 L579.11,91.07 L579.90,90.96M585.80,90.09 L586.56,89.98 L587.31,89.87 L588.07,89.76 L588.82,89.65 L589.58,89.54 L590.33,89.43 L591.09,89.33 L591.84,89.22 L592.60,89.11M599.10,88.18 L599.87,88.07 L600.63,87.96 L601.40,87.85 L602.17,87.74 L602.93,87.64 L603.70,87.53 L604.47,87.42 L605.23,87.31 L606.00,87.20M611.10,86.49 L611.87,86.38 L612.64,86.28 L613.41,86.17 L614.18,86.06 L614.95,85.96 L615.72,85.85 L616.49,85.74 L617.26,85.64 L618.03,85.53 L618.80,85.43M624.40,84.66 L625.10,84.57 L625.80,84.47 L626.50,84.38 L627.20,84.28 L627.90,84.19 L628.60,84.09 L629.30,84.00 L630.00,83.90 L630.70,83.81 L631.40,83.72 L632.10,83.62M638.20,82.81 L638.93,82.71 L639.67,82.61 L640.40,82.52 L641.13,82.42 L641.87,82.32 L642.60,82.22 L643.33,82.13 L644.07,82.03 L644.80,81.93M651.00,81.12 L651.71,81.03 L652.42,80.94 L653.13,80.85 L653.84,80.76 L654.55,80.66 L655.26,80.57 L655.97,80.48 L656.68,80.39 L657.39,80.30 L658.10,80.21M664.20,79.42 L664.97,79.33 L665.74,79.23 L666.51,79.13 L667.28,79.03 L668.05,78.94 L668.82,78.84 L669.59,78.74 L670.36,78.64 L671.13,78.55 L671.90,78.45" fill="none" stroke="#000" stroke-width="2.1"/>
<path d="M93.7,318.8 L97.6,323.2 L93.7,327.6 L89.8,323.2 Z" fill="#000"/>
<path d="M106.4,319.5 L110.3,323.9 L106.4,328.3 L102.5,323.9 Z" fill="#000"/>
<path d="M119.1,294.4 L123.0,298.8 L119.1,303.2 L115.2,298.8 Z" fill="#000"/>
<path d="M131.7,279.6 L135.6,284.0 L131.7,288.4 L127.8,284.0 Z" fill="#000"/>
<path d="M144.4,251.1 L148.3,255.5 L144.4,259.9 L140.5,255.5 Z" fill="#000"/>
<path d="M157.1,244.6 L161.0,249.0 L157.1,253.4 L153.2,249.0 Z" fill="#000"/>
<path d="M169.8,227.4 L173.7,231.8 L169.8,236.2 L165.9,231.8 Z" fill="#000"/>
<path d="M182.5,212.9 L186.4,217.3 L182.5,221.7 L178.6,217.3 Z" fill="#000"/>
<path d="M195.1,200.3 L199.0,204.7 L195.1,209.1 L191.2,204.7 Z" fill="#000"/>
<path d="M207.8,156.5 L211.7,160.9 L207.8,165.3 L203.9,160.9 Z" fill="#000"/>
<path d="M220.5,157.4 L224.4,161.8 L220.5,166.2 L216.6,161.8 Z" fill="#000"/>
<path d="M233.2,168.3 L237.1,172.7 L233.2,177.1 L229.3,172.7 Z" fill="#000"/>
<path d="M245.8,141.6 L249.7,146.0 L245.8,150.4 L241.9,146.0 Z" fill="#000"/>
<path d="M258.5,138.6 L262.4,143.0 L258.5,147.4 L254.6,143.0 Z" fill="#000"/>
<path d="M271.2,117.2 L275.1,121.6 L271.2,126.0 L267.3,121.6 Z" fill="#000"/>
<path d="M283.9,118.6 L287.8,123.0 L283.9,127.4 L280.0,123.0 Z" fill="#000"/>
<path d="M296.6,137.2 L300.5,141.6 L296.6,146.0 L292.7,141.6 Z" fill="#000"/>
<path d="M309.2,124.2 L313.1,128.6 L309.2,133.0 L305.3,128.6 Z" fill="#000"/>
<path d="M321.9,129.0 L325.8,133.4 L321.9,137.8 L318.0,133.4 Z" fill="#000"/>
<path d="M334.6,103.6 L338.5,108.0 L334.6,112.4 L330.7,108.0 Z" fill="#000"/>
<path d="M347.3,106.4 L351.2,110.8 L347.3,115.2 L343.4,110.8 Z" fill="#000"/>
<path d="M359.9,102.1 L363.8,106.5 L359.9,110.9 L356.0,106.5 Z" fill="#000"/>
<path d="M372.6,117.3 L376.5,121.7 L372.6,126.1 L368.7,121.7 Z" fill="#000"/>
<path d="M385.3,99.6 L389.2,104.0 L385.3,108.4 L381.4,104.0 Z" fill="#000"/>
<path d="M398.0,113.6 L401.9,118.0 L398.0,122.4 L394.1,118.0 Z" fill="#000"/>
<path d="M410.7,78.2 L414.6,82.6 L410.7,87.0 L406.8,82.6 Z" fill="#000"/>
<path d="M423.3,114.1 L427.2,118.5 L423.3,122.9 L419.4,118.5 Z" fill="#000"/>
<path d="M436.0,116.1 L439.9,120.5 L436.0,124.9 L432.1,120.5 Z" fill="#000"/>
<path d="M448.7,79.8 L452.6,84.2 L448.7,88.6 L444.8,84.2 Z" fill="#000"/>
<path d="M461.4,102.7 L465.3,107.1 L461.4,111.5 L457.5,107.1 Z" fill="#000"/>
<path d="M474.0,90.3 L477.9,94.7 L474.0,99.1 L470.1,94.7 Z" fill="#000"/>
<path d="M486.7,73.0 L490.6,77.4 L486.7,81.8 L482.8,77.4 Z" fill="#000"/>
<path d="M499.4,103.5 L503.3,107.9 L499.4,112.3 L495.5,107.9 Z" fill="#000"/>
<path d="M512.1,98.2 L516.0,102.6 L512.1,107.0 L508.2,102.6 Z" fill="#000"/>
<path d="M524.8,81.1 L528.7,85.5 L524.8,89.9 L520.9,85.5 Z" fill="#000"/>
<path d="M537.4,123.1 L541.3,127.5 L537.4,131.9 L533.5,127.5 Z" fill="#000"/>
<path d="M550.1,102.3 L554.0,106.7 L550.1,111.1 L546.2,106.7 Z" fill="#000"/>
<path d="M562.8,107.7 L566.7,112.1 L562.8,116.5 L558.9,112.1 Z" fill="#000"/>
<path d="M575.5,110.5 L579.4,114.9 L575.5,119.3 L571.6,114.9 Z" fill="#000"/>
<path d="M588.1,80.3 L592.0,84.7 L588.1,89.1 L584.2,84.7 Z" fill="#000"/>
<path d="M600.8,91.7 L604.7,96.1 L600.8,100.5 L596.9,96.1 Z" fill="#000"/>
<path d="M613.5,92.3 L617.4,96.7 L613.5,101.1 L609.6,96.7 Z" fill="#000"/>
<path d="M626.2,96.5 L630.1,100.9 L626.2,105.3 L622.3,100.9 Z" fill="#000"/>
<path d="M638.8,101.6 L642.7,106.0 L638.8,110.4 L634.9,106.0 Z" fill="#000"/>
<path d="M651.5,105.3 L655.4,109.7 L651.5,114.1 L647.6,109.7 Z" fill="#000"/>
<path d="M664.2,108.3 L668.1,112.7 L664.2,117.1 L660.3,112.7 Z" fill="#000"/>
<path d="M676.9,131.1 L680.8,135.5 L676.9,139.9 L673.0,135.5 Z" fill="#000"/>
<path d="M93.7,218.6 L97.6,226.1 L89.9,226.1 Z" fill="#000"/>
<path d="M106.4,208.9 L110.2,216.4 L102.5,216.4 Z" fill="#000"/>
<path d="M119.1,193.6 L122.9,201.1 L115.2,201.1 Z" fill="#000"/>
<path d="M131.7,194.9 L135.6,202.4 L127.9,202.4 Z" fill="#000"/>
<path d="M144.4,172.0 L148.3,179.5 L140.6,179.5 Z" fill="#000"/>
<path d="M157.1,171.3 L161.0,178.8 L153.3,178.8 Z" fill="#000"/>
<path d="M169.8,168.4 L173.6,175.9 L165.9,175.9 Z" fill="#000"/>
<path d="M182.5,157.9 L186.3,165.4 L178.6,165.4 Z" fill="#000"/>
<path d="M195.1,152.1 L199.0,159.6 L191.3,159.6 Z" fill="#000"/>
<path d="M207.8,110.1 L211.7,117.6 L204.0,117.6 Z" fill="#000"/>
<path d="M220.5,146.6 L224.3,154.1 L216.6,154.1 Z" fill="#000"/>
<path d="M233.2,129.1 L237.0,136.6 L229.3,136.6 Z" fill="#000"/>
<path d="M245.8,136.2 L249.7,143.7 L242.0,143.7 Z" fill="#000"/>
<path d="M258.5,130.4 L262.4,137.9 L254.7,137.9 Z" fill="#000"/>
<path d="M271.2,133.5 L275.1,141.0 L267.4,141.0 Z" fill="#000"/>
<path d="M283.9,117.1 L287.7,124.6 L280.0,124.6 Z" fill="#000"/>
<path d="M296.6,137.5 L300.4,145.0 L292.7,145.0 Z" fill="#000"/>
<path d="M309.2,123.1 L313.1,130.6 L305.4,130.6 Z" fill="#000"/>
<path d="M321.9,139.2 L325.8,146.7 L318.1,146.7 Z" fill="#000"/>
<path d="M334.6,111.6 L338.4,119.1 L330.7,119.1 Z" fill="#000"/>
<path d="M347.3,105.7 L351.1,113.2 L343.4,113.2 Z" fill="#000"/>
<path d="M359.9,103.9 L363.8,111.4 L356.1,111.4 Z" fill="#000"/>
<path d="M372.6,136.0 L376.5,143.5 L368.8,143.5 Z" fill="#000"/>
<path d="M385.3,129.6 L389.1,137.1 L381.4,137.1 Z" fill="#000"/>
<path d="M398.0,117.7 L401.8,125.2 L394.1,125.2 Z" fill="#000"/>
<path d="M410.7,90.4 L414.5,97.9 L406.8,97.9 Z" fill="#000"/>
<path d="M423.3,114.4 L427.2,121.9 L419.5,121.9 Z" fill="#000"/>
<path d="M436.0,115.0 L439.9,122.5 L432.2,122.5 Z" fill="#000"/>
<path d="M448.7,78.5 L452.5,86.0 L444.8,86.0 Z" fill="#000"/>
<path d="M461.4,100.0 L465.2,107.5 L457.5,107.5 Z" fill="#000"/>
<path d="M474.0,110.0 L477.9,117.5 L470.2,117.5 Z" fill="#000"/>
<path d="M486.7,81.1 L490.6,88.6 L482.9,88.6 Z" fill="#000"/>
<path d="M499.4,122.2 L503.2,129.7 L495.5,129.7 Z" fill="#000"/>
<path d="M512.1,107.3 L515.9,114.8 L508.2,114.8 Z" fill="#000"/>
<path d="M524.8,90.0 L528.6,97.5 L520.9,97.5 Z" fill="#000"/>
<path d="M537.4,123.4 L541.3,130.9 L533.6,130.9 Z" fill="#000"/>
<path d="M550.1,102.6 L554.0,110.1 L546.3,110.1 Z" fill="#000"/>
<path d="M562.8,116.0 L566.6,123.5 L558.9,123.5 Z" fill="#000"/>
<path d="M575.5,98.6 L579.3,106.1 L571.6,106.1 Z" fill="#000"/>
<path d="M588.1,80.6 L592.0,88.1 L584.3,88.1 Z" fill="#000"/>
<path d="M600.8,90.4 L604.7,97.9 L597.0,97.9 Z" fill="#000"/>
<path d="M613.5,98.2 L617.3,105.7 L609.6,105.7 Z" fill="#000"/>
<path d="M626.2,96.4 L630.0,103.9 L622.3,103.9 Z" fill="#000"/>
<path d="M638.8,97.2 L642.7,104.7 L635.0,104.7 Z" fill="#000"/>
<path d="M651.5,97.0 L655.4,104.5 L647.7,104.5 Z" fill="#000"/>
<path d="M664.2,107.4 L668.1,114.9 L660.4,114.9 Z" fill="#000"/>
<path d="M676.9,129.1 L680.7,136.6 L673.0,136.6 Z" fill="#000"/>
<path d="M77.3,335.6 l3.9,-4.4 l3.9,4.4 l-3.9,4.4z" fill="#000"/>
<text x="32.60" y="368.80" font-size="18.2">-</text>
<path d="M43.21,368.80 L45.85,368.80 L45.85,356.06 L43.94,356.06 L43.21,357.06 L41.76,358.15 L39.57,359.06 L39.57,361.06 L41.39,360.34 L43.21,359.34Z" fill="#000" stroke="#000" stroke-width="0.3"/>
<text x="48.78" y="368.80" font-size="18.2">0</text>
<path d="M43.21,318.09 L45.85,318.09 L45.85,305.35 L43.94,305.35 L43.21,306.35 L41.76,307.44 L39.57,308.35 L39.57,310.36 L41.39,309.63 L43.21,308.63Z" fill="#000" stroke="#000" stroke-width="0.3"/>
<text x="48.78" y="318.09" font-size="18.2">0</text>
<text x="38.66" y="267.38" font-size="18.2">3</text>
<text x="48.78" y="267.38" font-size="18.2">0</text>
<text x="38.66" y="216.67" font-size="18.2">5</text>
<text x="48.78" y="216.67" font-size="18.2">0</text>
<text x="38.66" y="165.96" font-size="18.2">7</text>
<text x="48.78" y="165.96" font-size="18.2">0</text>
<text x="38.66" y="115.25" font-size="18.2">9</text>
<text x="48.78" y="115.25" font-size="18.2">0</text>
<path d="M33.09,64.54 L35.73,64.54 L35.73,51.80 L33.82,51.80 L33.09,52.80 L31.64,53.89 L29.45,54.80 L29.45,56.81 L31.27,56.08 L33.09,55.08Z" fill="#000" stroke="#000" stroke-width="0.3"/>
<path d="M43.21,64.54 L45.85,64.54 L45.85,51.80 L43.94,51.80 L43.21,52.80 L41.76,53.89 L39.57,54.80 L39.57,56.81 L41.39,56.08 L43.21,55.08Z" fill="#000" stroke="#000" stroke-width="0.3"/>
<text x="48.78" y="64.54" font-size="18.2">0</text>
<path d="M33.09,13.83 L35.73,13.83 L35.73,1.09 L33.82,1.09 L33.09,2.09 L31.64,3.18 L29.45,4.09 L29.45,6.09 L31.27,5.37 L33.09,4.37Z" fill="#000" stroke="#000" stroke-width="0.3"/>
<text x="38.66" y="13.83" font-size="18.2">3</text>
<text x="48.78" y="13.83" font-size="18.2">0</text>
<text x="128.68" y="358.90" font-size="16.2">2</text>
<text x="137.69" y="358.90" font-size="16.2">5</text>
<text x="255.46" y="358.90" font-size="16.2">7</text>
<text x="264.46" y="358.90" font-size="16.2">5</text>
<path d="M381.78,358.90 L384.13,358.90 L384.13,347.56 L382.42,347.56 L381.78,348.45 L380.48,349.42 L378.54,350.23 L378.54,352.01 L380.16,351.37 L381.78,350.48Z" fill="#000" stroke="#000" stroke-width="0.3"/>
<text x="386.73" y="358.90" font-size="16.2">2</text>
<text x="395.74" y="358.90" font-size="16.2">5</text>
<path d="M508.55,358.90 L510.90,358.90 L510.90,347.56 L509.20,347.56 L508.55,348.45 L507.26,349.42 L505.31,350.23 L505.31,352.01 L506.93,351.37 L508.55,350.48Z" fill="#000" stroke="#000" stroke-width="0.3"/>
<text x="513.51" y="358.90" font-size="16.2">7</text>
<text x="522.52" y="358.90" font-size="16.2">5</text>
<text x="631.28" y="358.90" font-size="16.2">2</text>
<text x="640.28" y="358.90" font-size="16.2">2</text>
<text x="649.29" y="358.90" font-size="16.2">5</text>
<text x="335.4" y="393.6" font-size="22" textLength="114.3" lengthAdjust="spacingAndGlyphs">Time (min.)</text>
<text transform="translate(18.6,334.1) rotate(-90)" x="0" y="0" font-size="24" textLength="300" lengthAdjust="spacingAndGlyphs">Relative Fluorescence (%)</text>
</svg></body></html>
